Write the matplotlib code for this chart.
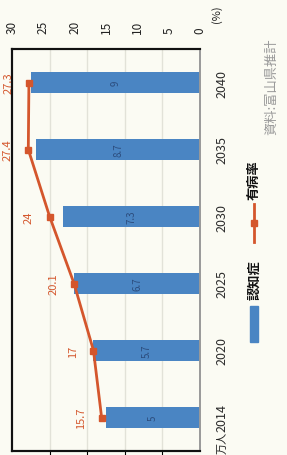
import matplotlib
matplotlib.use("Agg")
import matplotlib.pyplot as plt
from matplotlib.patches import Rectangle
from matplotlib.lines import Line2D

plt.rcParams['font.family'] = ['Noto Sans CJK JP', 'DejaVu Sans']

years = ["2014", "2020", "2025", "2030", "2035", "2040"]
dementia = [5, 5.7, 6.7, 7.3, 8.7, 9]          # 万人
prevalence = [15.7, 17, 20.1, 24, 27.4, 27.3]  # %
pct_ticks = [0, 5, 10, 15, 20, 25, 30]
grid_ticks = [2, 4, 6, 8]

W, H = 287, 456
bg = '#fbfbf3'
bar_c = '#4a85c3'
line_c = '#d4562c'

fig = plt.figure(figsize=(W / 100, H / 100), dpi=100, facecolor=bg)

def fx(px):
    return px / W

def fy(py):
    return 1 - py / H

L, R, T, B = 12, 200, 50, 452
ax = fig.add_axes([fx(L), fy(B), fx(R) - fx(L), fy(T) - fy(B)], facecolor=bg)
pos = list(range(len(years)))

ax.barh(pos, dementia, height=0.32, color=bar_c, zorder=2)
ax.set_xlim(10, 0)
ax.set_ylim(-0.5, len(years) - 0.5)
ax.set_xticks(grid_ticks)
ax.grid(axis='x', color='#e2e2d8', linewidth=1, zorder=0)
ax.tick_params(axis='x', bottom=False, labelbottom=False)
ax.set_yticks(pos)
ax.set_yticklabels(years, rotation=90, va='center', fontsize=9, color='#2a2a2a')
ax.yaxis.tick_right()
ax.tick_params(axis='y', right=False, left=False, labelright=True, pad=8)

for i, v in enumerate(dementia):
    ax.text(v / 2, i, f"{v:g}", rotation=90, ha='center', va='center',
            fontsize=7, color='#2c4d7e', zorder=3)

ax2 = ax.twiny()
ax2.set_xlim(30, 0)
ax2.plot(prevalence, pos, color=line_c, linewidth=2, marker='s',
         markersize=5, zorder=4)
ax2.set_xticks(pct_ticks)
ax2.set_xticklabels([str(t) for t in pct_ticks], rotation=90, fontsize=8.5,
                    color='#222222')
ax2.tick_params(axis='x', top=False, pad=8)
for i, v in enumerate(prevalence):
    ax2.text(v + 3.3, i, f"{v:g}", rotation=90, ha='center', va='center',
             fontsize=8, color=line_c, clip_on=False)

for a in (ax, ax2):
    for s in ('left', 'top', 'bottom'):
        a.spines[s].set_color('#111111')
        a.spines[s].set_linewidth(1.5)
    a.spines['right'].set_color('#999999')
    a.spines['right'].set_linewidth(1.2)

# legend
fig.add_artist(Rectangle((fx(250), fy(343)), fx(8), fy(307) - fy(343),
                         transform=fig.transFigure, color=bar_c))
fig.text(fx(254), fy(280), "認知症", rotation=90, ha='center', va='center',
         fontsize=9.5, fontweight='bold', color='#111111')
fig.add_artist(Line2D([fx(254), fx(254)], [fy(243), fy(205)],
                      transform=fig.transFigure, color=line_c, linewidth=2))
fig.add_artist(Line2D([fx(254)], [fy(224)], transform=fig.transFigure,
                      color=line_c, marker='s', markersize=5))
fig.text(fx(254), fy(180), "有病率", rotation=90, ha='center', va='center',
         fontsize=9.5, fontweight='bold', color='#111111')

fig.text(fx(217), fy(14), "(%)", rotation=90, ha='center', va='center',
         fontsize=8, color='#222222')
fig.text(fx(223), fy(443), "万人", rotation=90, ha='center', va='center',
         fontsize=8, color='#222222')
fig.text(fx(272), fy(87), "資料:富山県推計", rotation=90, ha='center',
         va='center', fontsize=9.5, color='#9a9a9a')

fig.savefig("out.png", dpi=100, facecolor=bg)
